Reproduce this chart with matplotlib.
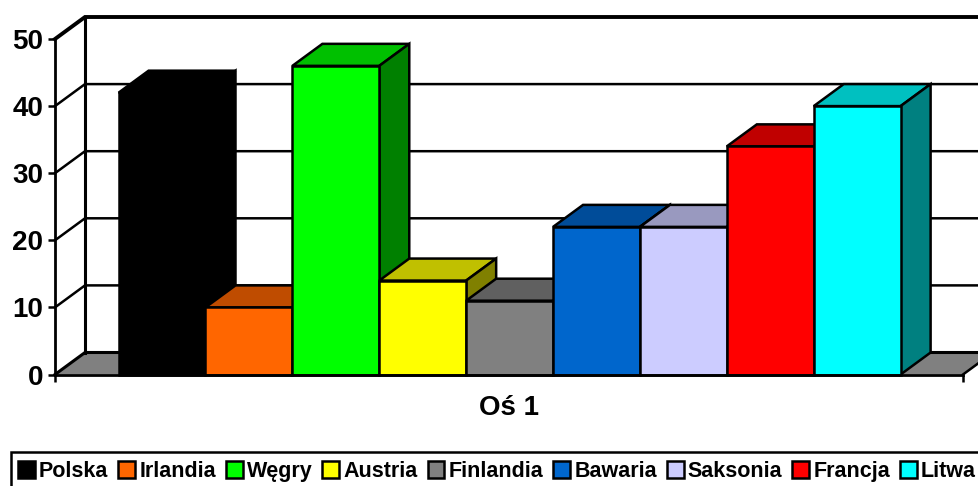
import numpy as np
import matplotlib
matplotlib.use("Agg")
import matplotlib.pyplot as plt
from matplotlib.patches import Patch, Rectangle

categories = ["Polska", "Irlandia", "Węgry", "Austria", "Finlandia", "Bawaria", "Saksonia", "Francja", "Litwa"]
values = [42, 10, 46, 14, 11, 22, 22, 34, 40]
front_colors = ["#000000", "#FF6600", "#00FF00", "#FFFF00", "#808080", "#0066CC", "#CCCCFF", "#FF0000", "#00FFFF"]
top_colors = ["#000000", "#BF4C00", "#00C000", "#C0C000", "#606060", "#004C99", "#9999BF", "#C00000", "#00C0C0"]
side_colors = ["#000000", "#803300", "#008000", "#808000", "#404040", "#003366", "#666680", "#800000", "#008080"]
y_ticks = [0, 10, 20, 30, 40, 50]
axis_title = "Oś 1"

W, H = 979, 486
plt.rcParams["font.family"] = ["Liberation Sans", "DejaVu Sans"]
plt.rcParams["font.weight"] = "bold"
fig = plt.figure(figsize=(W / 100, H / 100), dpi=100, facecolor="white")

px_left, px_right, px_y0, px_y50 = 55, 963, 374.5, 39
ax = fig.add_axes([px_left / W, 1 - px_y0 / H, (px_right - px_left) / W, (px_y0 - px_y50) / H])
margin_left, margin_right = 0.732, 0.718
ax.set_xlim(-margin_left, len(values) + margin_right)
ax.set_ylim(0, 50)
ax.patch.set_visible(False)

slot_px = (px_right - px_left) / (len(values) + margin_left + margin_right)
unit_px = (px_y0 - px_y50) / 50
dx = 30 / slot_px
dy = 22 / unit_px
LW = 1.8
x0, x1 = ax.get_xlim()

# floor
ax.fill([x0, x0 + dx, x1 + dx, x1], [0, dy, dy, 0], facecolor="#808080", edgecolor="none",
        clip_on=False, zorder=1)
ax.plot([x0, x0 + dx, x1 + dx], [0, dy, dy], color="black", lw=2.2, clip_on=False, zorder=2,
        solid_joinstyle="miter")
ax.plot([x1, x1 + dx], [0, dy], color="black", lw=LW, clip_on=False, zorder=2)

# walls and gridlines
for t in y_ticks[1:]:
    top = t == y_ticks[-1]
    ax.plot([x0, x0 + dx, x1 + dx], [t, t + dy, t + dy], color="black",
            lw=2.8 if top else LW, clip_on=False, zorder=2, solid_joinstyle="miter")
ax.plot([x0 + dx, x0 + dx], [dy, 50 + dy], color="black", lw=LW + 0.4, clip_on=False, zorder=2)

# bars
xs = np.arange(len(values))
for i, (x, v) in enumerate(zip(xs, values)):
    z = 10 + i
    ax.fill([x, x + dx, x + 1 + dx, x + 1], [v, v + dy, v + dy, v], facecolor=top_colors[i],
            edgecolor="black", lw=LW, clip_on=False, zorder=z, joinstyle="miter")
    ax.fill([x + 1, x + 1 + dx, x + 1 + dx, x + 1], [0, dy, v + dy, v], facecolor=side_colors[i],
            edgecolor="black", lw=LW, clip_on=False, zorder=z, joinstyle="miter")
    ax.bar(x, v, width=1, align="edge", color=front_colors[i], edgecolor="black", lw=LW,
           clip_on=False, zorder=z + 0.5)

# axes
for name in ("top", "right"):
    ax.spines[name].set_visible(False)
for name in ("left", "bottom"):
    ax.spines[name].set_linewidth(LW + 0.2)
    ax.spines[name].set_zorder(40)
ax.set_yticks(y_ticks)
ax.set_xticks([x0, x1])
ax.set_xticklabels(["", ""])
ax.tick_params(axis="y", length=5, width=LW, pad=3.6, labelsize=20)
ax.tick_params(axis="x", length=5, width=LW)
ax.set_xlabel(axis_title, fontsize=20, fontweight="bold", labelpad=6)

# legend frame (runs off the picture on the right and at the bottom)
fig.add_artist(Rectangle((11 / W, 1 - 500 / H), 1000 / W, 48 / H, transform=fig.transFigure,
                         facecolor="white", edgecolor="black", lw=LW, clip_on=False))
handles = [Patch(facecolor=c, edgecolor="black", lw=LW) for c in front_colors]
leg = fig.legend(handles, categories, loc="upper left", bbox_to_anchor=(18 / W, 1 - 461 / H),
                 ncol=len(categories), frameon=False, borderpad=0, borderaxespad=0,
                 handlelength=0.78, handleheight=0.8, handletextpad=0.2, columnspacing=0.455,
                 prop={"family": ["Liberation Sans"], "weight": "bold", "size": 15.5})
leg.set_zorder(50)

fig.savefig("out.png", dpi=100)
